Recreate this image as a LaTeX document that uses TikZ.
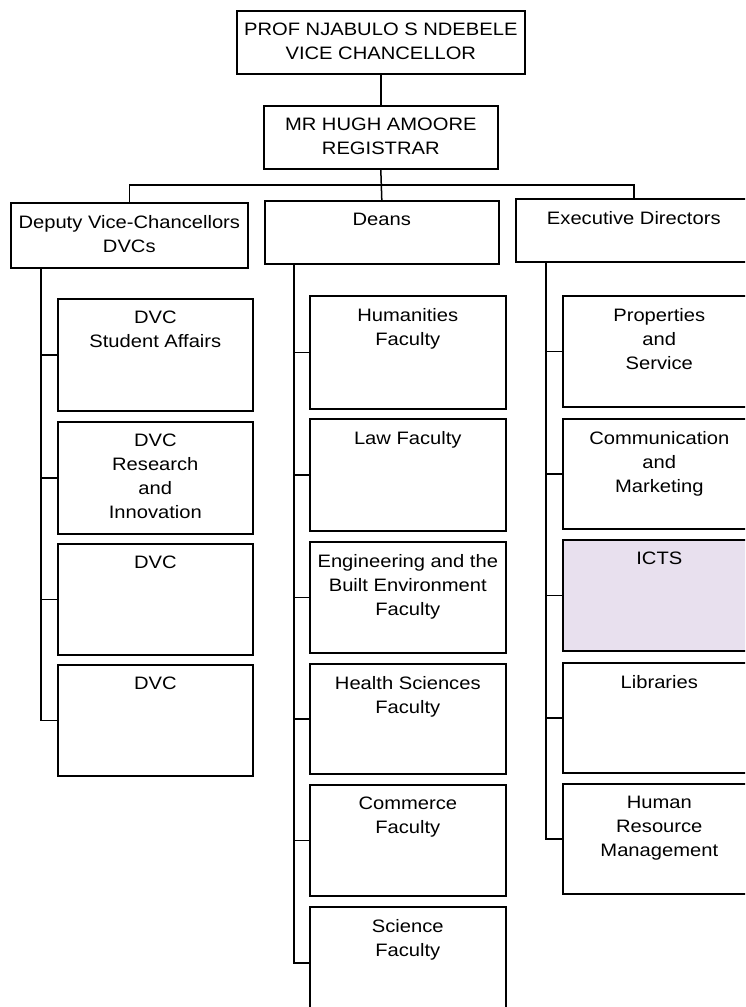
\documentclass[tikz,border=0pt]{standalone}
\usepackage{fontspec}
\setmainfont[FakeStretch=1.12]{Liberation Sans}
\begin{document}
\begin{tikzpicture}[x=1pt,y=-1pt,
  box/.style={draw=black, line width=1.6pt, inner sep=0pt, anchor=north west},
  lbl/.style={anchor=north, align=center, inner sep=0pt, yshift=-13pt,
              font=\fontsize{18}{24}\selectfont},
  link/.style={draw=black, line width=1.5pt},
  dvcbox/.style={box, minimum width=195pt},
  deanbox/.style={box, minimum width=196pt},
  execbox/.style={box, minimum width=193pt}]
\useasboundingbox (0,0) rectangle (745,1007);
\clip (0,0) rectangle (745,1007);
\fill[white] (0,0) rectangle (745,1007);

% top of the chart
\node[box, minimum width=288pt, minimum height=63pt] (vc) at (236,10) {};
\node[lbl] (vct) at (vc.north) {PROF NJABULO S NDEBELE\\VICE CHANCELLOR};
\node[box, minimum width=234pt, minimum height=63pt] (reg) at (263,105) {};
\node[lbl] (regt) at (reg.north) {MR HUGH AMOORE\\REGISTRAR};

% column heads
\node[box, minimum width=237pt, minimum height=65pt] (dvch) at (10,202) {};
\node[lbl] (dvcht) at (dvch.north) {Deputy Vice-Chancellors\\DVCs};
\node[box, minimum width=234pt, minimum height=63pt] (deansh) at (264,200) {};
\node[lbl] (deanst) at (deansh.north) {Deans};
\node[box, minimum width=236pt, minimum height=63pt] (exech) at (515,198) {};
\node[lbl] (execht) at (exech.north) {Executive Directors};

% deputy vice-chancellors
\node[dvcbox, minimum height=112pt] (d1) at (57,298) {};
\node[lbl] (d1t) at (d1.north) {DVC\\Student Affairs};
\node[dvcbox, minimum height=112pt] (d2) at (57,421) {};
\node[lbl] (d2t) at (d2.north) {DVC\\Research\\and\\Innovation};
\node[dvcbox, minimum height=111pt] (d3) at (57,543) {};
\node[lbl] (d3t) at (d3.north) {DVC};
\node[dvcbox, minimum height=111pt] (d4) at (57,664) {};
\node[lbl] (d4t) at (d4.north) {DVC};

% faculties
\node[deanbox, minimum height=113pt] (f1) at (309,295) {};
\node[lbl] (f1t) at (f1.north) {Humanities\\Faculty};
\node[deanbox, minimum height=112pt] (f2) at (309,418) {};
\node[lbl] (f2t) at (f2.north) {Law Faculty};
\node[deanbox, minimum height=111pt] (f3) at (309,541) {};
\node[lbl] (f3t) at (f3.north) {Engineering and the\\Built Environment\\Faculty};
\node[deanbox, minimum height=110pt] (f4) at (309,663) {};
\node[lbl] (f4t) at (f4.north) {Health Sciences\\Faculty};
\node[deanbox, minimum height=111pt] (f5) at (309,784) {};
\node[lbl] (f5t) at (f5.north) {Commerce\\Faculty};
\node[deanbox, minimum height=112pt] (f6) at (309,906) {};
\node[lbl] (f6t) at (f6.north) {Science\\Faculty};

% executive directors
\node[execbox, minimum height=111pt] (e1) at (562,295) {};
\node[lbl] (e1t) at (e1.north) {Properties\\and\\Service};
\node[execbox, minimum height=110pt] (e2) at (562,418) {};
\node[lbl] (e2t) at (e2.north) {Communication\\and\\Marketing};
\node[execbox, minimum height=111pt, fill={rgb,255:red,232;green,224;blue,238}] (e3) at (562,539) {};
\node[lbl] (e3t) at (e3.north) {ICTS};
\node[execbox, minimum height=110pt] (e4) at (562,662) {};
\node[lbl] (e4t) at (e4.north) {Libraries};
\node[execbox, minimum height=110pt] (e5) at (562,783) {};
\node[lbl] (e5t) at (e5.north) {Human\\Resource\\Management};

% reporting lines
\coordinate (bar) at (380,185);
\draw[link] (vc.south) -- (reg.north);
\draw[link] (reg.south) -- (deansh.north);
\draw[link] (dvch.north) |- (bar) -| (exech.north);

\coordinate (dsp) at ([xshift=31pt]dvch.south west);
\coordinate (fsp) at ([xshift=30pt]deansh.south west);
\coordinate (esp) at ([xshift=31pt]exech.south west);
\draw[link] (dsp) |- (d4.west);
\foreach \n in {d1,d2,d3} \draw[link] (\n.west -| dsp) -- (\n.west);
\draw[link] (fsp) |- (f6.west);
\foreach \n in {f1,f2,f3,f4,f5} \draw[link] (\n.west -| fsp) -- (\n.west);
\draw[link] (esp) |- (e5.west);
\foreach \n in {e1,e2,e3,e4} \draw[link] (\n.west -| esp) -- (\n.west);
\end{tikzpicture}
\end{document}
